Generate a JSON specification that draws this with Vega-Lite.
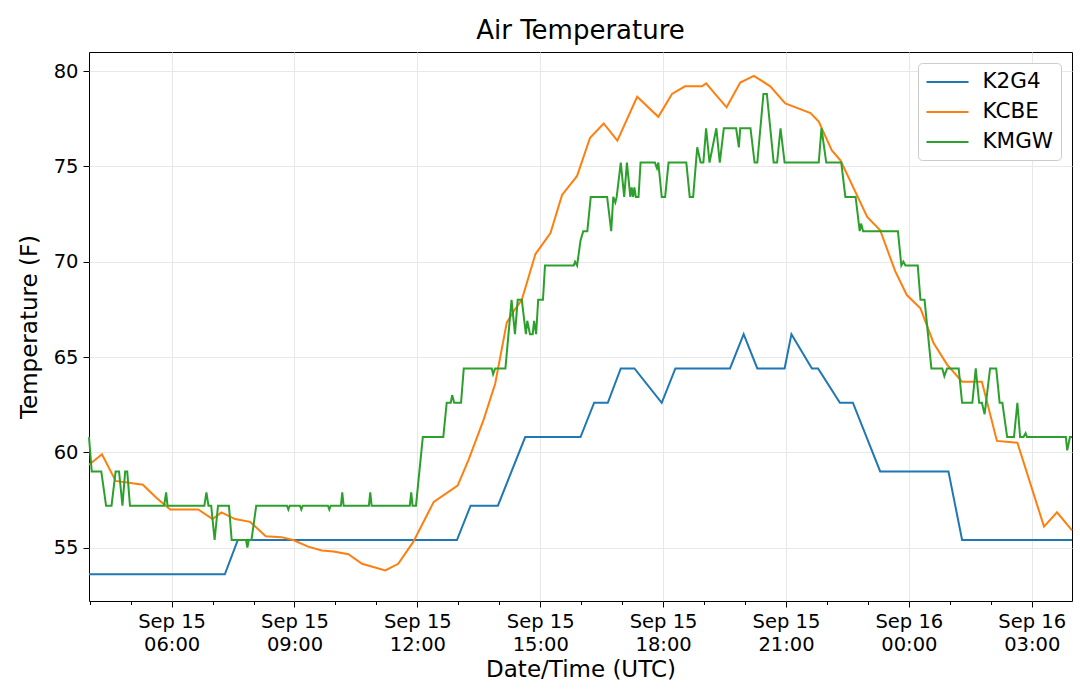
{
  "$schema": "https://vega.github.io/schema/vega-lite/v6.json",
  "width": 983,
  "height": 549,
  "autosize": "none",
  "padding": {"left": 89, "top": 52, "right": 8, "bottom": 92},
  "title": {"text": "Air Temperature", "fontSize": 26, "fontWeight": "normal", "color": "black", "offset": 8, "anchor": "middle"},
  "data": {
    "values": [
      {"station": "K2G4", "time": "2019-09-15T03:59:00", "temp": 53.6},
      {"station": "K2G4", "time": "2019-09-15T07:18:00", "temp": 53.6},
      {"station": "K2G4", "time": "2019-09-15T07:37:00", "temp": 55.4},
      {"station": "K2G4", "time": "2019-09-15T12:58:00", "temp": 55.4},
      {"station": "K2G4", "time": "2019-09-15T13:18:00", "temp": 57.2},
      {"station": "K2G4", "time": "2019-09-15T13:58:00", "temp": 57.2},
      {"station": "K2G4", "time": "2019-09-15T14:38:00", "temp": 60.8},
      {"station": "K2G4", "time": "2019-09-15T15:59:00", "temp": 60.8},
      {"station": "K2G4", "time": "2019-09-15T16:19:00", "temp": 62.6},
      {"station": "K2G4", "time": "2019-09-15T16:39:00", "temp": 62.6},
      {"station": "K2G4", "time": "2019-09-15T16:58:00", "temp": 64.4},
      {"station": "K2G4", "time": "2019-09-15T17:18:00", "temp": 64.4},
      {"station": "K2G4", "time": "2019-09-15T17:58:00", "temp": 62.6},
      {"station": "K2G4", "time": "2019-09-15T18:18:00", "temp": 64.4},
      {"station": "K2G4", "time": "2019-09-15T19:38:00", "temp": 64.4},
      {"station": "K2G4", "time": "2019-09-15T19:58:00", "temp": 66.2},
      {"station": "K2G4", "time": "2019-09-15T20:18:00", "temp": 64.4},
      {"station": "K2G4", "time": "2019-09-15T20:58:00", "temp": 64.4},
      {"station": "K2G4", "time": "2019-09-15T21:08:00", "temp": 66.2},
      {"station": "K2G4", "time": "2019-09-15T21:38:00", "temp": 64.4},
      {"station": "K2G4", "time": "2019-09-15T21:47:00", "temp": 64.4},
      {"station": "K2G4", "time": "2019-09-15T22:19:00", "temp": 62.6},
      {"station": "K2G4", "time": "2019-09-15T22:38:00", "temp": 62.6},
      {"station": "K2G4", "time": "2019-09-15T23:18:00", "temp": 59.0},
      {"station": "K2G4", "time": "2019-09-16T00:58:00", "temp": 59.0},
      {"station": "K2G4", "time": "2019-09-16T01:18:00", "temp": 55.4},
      {"station": "K2G4", "time": "2019-09-16T03:59:00", "temp": 55.4},

      {"station": "KCBE", "time": "2019-09-15T03:59:00", "temp": 59.35},
      {"station": "KCBE", "time": "2019-09-15T04:18:00", "temp": 59.9},
      {"station": "KCBE", "time": "2019-09-15T04:38:00", "temp": 58.5},
      {"station": "KCBE", "time": "2019-09-15T05:18:00", "temp": 58.3},
      {"station": "KCBE", "time": "2019-09-15T05:38:00", "temp": 57.6},
      {"station": "KCBE", "time": "2019-09-15T05:58:00", "temp": 57.0},
      {"station": "KCBE", "time": "2019-09-15T06:39:00", "temp": 57.0},
      {"station": "KCBE", "time": "2019-09-15T07:00:00", "temp": 56.5},
      {"station": "KCBE", "time": "2019-09-15T07:13:00", "temp": 56.85},
      {"station": "KCBE", "time": "2019-09-15T07:33:00", "temp": 56.5},
      {"station": "KCBE", "time": "2019-09-15T07:55:00", "temp": 56.35},
      {"station": "KCBE", "time": "2019-09-15T08:18:00", "temp": 55.6},
      {"station": "KCBE", "time": "2019-09-15T08:41:00", "temp": 55.55},
      {"station": "KCBE", "time": "2019-09-15T08:58:00", "temp": 55.4},
      {"station": "KCBE", "time": "2019-09-15T09:20:00", "temp": 55.05},
      {"station": "KCBE", "time": "2019-09-15T09:40:00", "temp": 54.85},
      {"station": "KCBE", "time": "2019-09-15T09:57:00", "temp": 54.8},
      {"station": "KCBE", "time": "2019-09-15T10:19:00", "temp": 54.65},
      {"station": "KCBE", "time": "2019-09-15T10:39:00", "temp": 54.15},
      {"station": "KCBE", "time": "2019-09-15T11:13:00", "temp": 53.8},
      {"station": "KCBE", "time": "2019-09-15T11:32:00", "temp": 54.15},
      {"station": "KCBE", "time": "2019-09-15T11:54:00", "temp": 55.3},
      {"station": "KCBE", "time": "2019-09-15T12:24:00", "temp": 57.4},
      {"station": "KCBE", "time": "2019-09-15T12:59:00", "temp": 58.25},
      {"station": "KCBE", "time": "2019-09-15T13:15:00", "temp": 59.6},
      {"station": "KCBE", "time": "2019-09-15T13:37:00", "temp": 61.7},
      {"station": "KCBE", "time": "2019-09-15T13:54:00", "temp": 63.6},
      {"station": "KCBE", "time": "2019-09-15T14:11:00", "temp": 66.8},
      {"station": "KCBE", "time": "2019-09-15T14:23:00", "temp": 67.5},
      {"station": "KCBE", "time": "2019-09-15T14:33:00", "temp": 68.0},
      {"station": "KCBE", "time": "2019-09-15T14:53:00", "temp": 70.4},
      {"station": "KCBE", "time": "2019-09-15T15:15:00", "temp": 71.5},
      {"station": "KCBE", "time": "2019-09-15T15:32:00", "temp": 73.5},
      {"station": "KCBE", "time": "2019-09-15T15:54:00", "temp": 74.5},
      {"station": "KCBE", "time": "2019-09-15T16:13:00", "temp": 76.5},
      {"station": "KCBE", "time": "2019-09-15T16:33:00", "temp": 77.25},
      {"station": "KCBE", "time": "2019-09-15T16:53:00", "temp": 76.35},
      {"station": "KCBE", "time": "2019-09-15T17:22:00", "temp": 78.65},
      {"station": "KCBE", "time": "2019-09-15T17:53:00", "temp": 77.6},
      {"station": "KCBE", "time": "2019-09-15T18:13:00", "temp": 78.8},
      {"station": "KCBE", "time": "2019-09-15T18:32:00", "temp": 79.2},
      {"station": "KCBE", "time": "2019-09-15T18:57:00", "temp": 79.2},
      {"station": "KCBE", "time": "2019-09-15T19:03:00", "temp": 79.35},
      {"station": "KCBE", "time": "2019-09-15T19:33:00", "temp": 78.1},
      {"station": "KCBE", "time": "2019-09-15T19:53:00", "temp": 79.4},
      {"station": "KCBE", "time": "2019-09-15T20:13:00", "temp": 79.75},
      {"station": "KCBE", "time": "2019-09-15T20:37:00", "temp": 79.2},
      {"station": "KCBE", "time": "2019-09-15T20:59:00", "temp": 78.3},
      {"station": "KCBE", "time": "2019-09-15T21:36:00", "temp": 77.8},
      {"station": "KCBE", "time": "2019-09-15T21:48:00", "temp": 77.35},
      {"station": "KCBE", "time": "2019-09-15T22:07:00", "temp": 75.85},
      {"station": "KCBE", "time": "2019-09-15T22:20:00", "temp": 75.3},
      {"station": "KCBE", "time": "2019-09-15T22:59:00", "temp": 72.35},
      {"station": "KCBE", "time": "2019-09-15T23:18:00", "temp": 71.65},
      {"station": "KCBE", "time": "2019-09-15T23:40:00", "temp": 69.5},
      {"station": "KCBE", "time": "2019-09-15T23:57:00", "temp": 68.25},
      {"station": "KCBE", "time": "2019-09-16T00:17:00", "temp": 67.55},
      {"station": "KCBE", "time": "2019-09-16T00:36:00", "temp": 65.75},
      {"station": "KCBE", "time": "2019-09-16T00:56:00", "temp": 64.6},
      {"station": "KCBE", "time": "2019-09-16T01:18:00", "temp": 63.7},
      {"station": "KCBE", "time": "2019-09-16T01:47:00", "temp": 63.7},
      {"station": "KCBE", "time": "2019-09-16T02:09:00", "temp": 60.6},
      {"station": "KCBE", "time": "2019-09-16T02:39:00", "temp": 60.5},
      {"station": "KCBE", "time": "2019-09-16T03:18:00", "temp": 56.1},
      {"station": "KCBE", "time": "2019-09-16T03:37:00", "temp": 56.85},
      {"station": "KCBE", "time": "2019-09-16T03:59:00", "temp": 55.9},

      {"station": "KMGW", "time": "2019-09-15T03:59:00", "temp": 60.8},
      {"station": "KMGW", "time": "2019-09-15T04:03:00", "temp": 59.0},
      {"station": "KMGW", "time": "2019-09-15T04:17:00", "temp": 59.0},
      {"station": "KMGW", "time": "2019-09-15T04:24:00", "temp": 57.2},
      {"station": "KMGW", "time": "2019-09-15T04:32:00", "temp": 57.2},
      {"station": "KMGW", "time": "2019-09-15T04:38:00", "temp": 59.0},
      {"station": "KMGW", "time": "2019-09-15T04:43:00", "temp": 59.0},
      {"station": "KMGW", "time": "2019-09-15T04:48:00", "temp": 57.2},
      {"station": "KMGW", "time": "2019-09-15T04:52:00", "temp": 59.0},
      {"station": "KMGW", "time": "2019-09-15T04:55:00", "temp": 59.0},
      {"station": "KMGW", "time": "2019-09-15T04:59:00", "temp": 57.2},
      {"station": "KMGW", "time": "2019-09-15T05:49:00", "temp": 57.2},
      {"station": "KMGW", "time": "2019-09-15T05:52:00", "temp": 57.9},
      {"station": "KMGW", "time": "2019-09-15T05:54:00", "temp": 57.2},
      {"station": "KMGW", "time": "2019-09-15T06:48:00", "temp": 57.2},
      {"station": "KMGW", "time": "2019-09-15T06:51:00", "temp": 57.9},
      {"station": "KMGW", "time": "2019-09-15T06:54:00", "temp": 57.2},
      {"station": "KMGW", "time": "2019-09-15T06:58:00", "temp": 57.2},
      {"station": "KMGW", "time": "2019-09-15T07:03:00", "temp": 55.4},
      {"station": "KMGW", "time": "2019-09-15T07:08:00", "temp": 57.2},
      {"station": "KMGW", "time": "2019-09-15T07:24:00", "temp": 57.2},
      {"station": "KMGW", "time": "2019-09-15T07:28:00", "temp": 55.4},
      {"station": "KMGW", "time": "2019-09-15T07:49:00", "temp": 55.4},
      {"station": "KMGW", "time": "2019-09-15T07:51:00", "temp": 55.0},
      {"station": "KMGW", "time": "2019-09-15T07:53:00", "temp": 55.4},
      {"station": "KMGW", "time": "2019-09-15T07:57:00", "temp": 55.4},
      {"station": "KMGW", "time": "2019-09-15T08:04:00", "temp": 57.2},
      {"station": "KMGW", "time": "2019-09-15T08:49:00", "temp": 57.2},
      {"station": "KMGW", "time": "2019-09-15T08:51:00", "temp": 57.0},
      {"station": "KMGW", "time": "2019-09-15T08:53:00", "temp": 57.2},
      {"station": "KMGW", "time": "2019-09-15T09:08:00", "temp": 57.2},
      {"station": "KMGW", "time": "2019-09-15T09:10:00", "temp": 57.0},
      {"station": "KMGW", "time": "2019-09-15T09:12:00", "temp": 57.2},
      {"station": "KMGW", "time": "2019-09-15T09:49:00", "temp": 57.2},
      {"station": "KMGW", "time": "2019-09-15T09:51:00", "temp": 57.0},
      {"station": "KMGW", "time": "2019-09-15T09:53:00", "temp": 57.2},
      {"station": "KMGW", "time": "2019-09-15T10:08:00", "temp": 57.2},
      {"station": "KMGW", "time": "2019-09-15T10:10:00", "temp": 57.9},
      {"station": "KMGW", "time": "2019-09-15T10:12:00", "temp": 57.2},
      {"station": "KMGW", "time": "2019-09-15T10:49:00", "temp": 57.2},
      {"station": "KMGW", "time": "2019-09-15T10:51:00", "temp": 57.9},
      {"station": "KMGW", "time": "2019-09-15T10:53:00", "temp": 57.2},
      {"station": "KMGW", "time": "2019-09-15T11:49:00", "temp": 57.2},
      {"station": "KMGW", "time": "2019-09-15T11:51:00", "temp": 57.9},
      {"station": "KMGW", "time": "2019-09-15T11:53:00", "temp": 57.2},
      {"station": "KMGW", "time": "2019-09-15T11:58:00", "temp": 57.2},
      {"station": "KMGW", "time": "2019-09-15T12:08:00", "temp": 60.8},
      {"station": "KMGW", "time": "2019-09-15T12:38:00", "temp": 60.8},
      {"station": "KMGW", "time": "2019-09-15T12:43:00", "temp": 62.6},
      {"station": "KMGW", "time": "2019-09-15T12:49:00", "temp": 62.6},
      {"station": "KMGW", "time": "2019-09-15T12:51:00", "temp": 63.0},
      {"station": "KMGW", "time": "2019-09-15T12:54:00", "temp": 62.6},
      {"station": "KMGW", "time": "2019-09-15T13:04:00", "temp": 62.6},
      {"station": "KMGW", "time": "2019-09-15T13:08:00", "temp": 64.4},
      {"station": "KMGW", "time": "2019-09-15T13:49:00", "temp": 64.4},
      {"station": "KMGW", "time": "2019-09-15T13:51:00", "temp": 64.1},
      {"station": "KMGW", "time": "2019-09-15T13:54:00", "temp": 64.4},
      {"station": "KMGW", "time": "2019-09-15T14:09:00", "temp": 64.4},
      {"station": "KMGW", "time": "2019-09-15T14:18:00", "temp": 68.0},
      {"station": "KMGW", "time": "2019-09-15T14:23:00", "temp": 66.2},
      {"station": "KMGW", "time": "2019-09-15T14:27:00", "temp": 68.0},
      {"station": "KMGW", "time": "2019-09-15T14:33:00", "temp": 68.0},
      {"station": "KMGW", "time": "2019-09-15T14:39:00", "temp": 66.2},
      {"station": "KMGW", "time": "2019-09-15T14:41:00", "temp": 66.9},
      {"station": "KMGW", "time": "2019-09-15T14:45:00", "temp": 66.2},
      {"station": "KMGW", "time": "2019-09-15T14:49:00", "temp": 66.2},
      {"station": "KMGW", "time": "2019-09-15T14:51:00", "temp": 66.9},
      {"station": "KMGW", "time": "2019-09-15T14:54:00", "temp": 66.2},
      {"station": "KMGW", "time": "2019-09-15T14:57:00", "temp": 68.0},
      {"station": "KMGW", "time": "2019-09-15T15:04:00", "temp": 68.0},
      {"station": "KMGW", "time": "2019-09-15T15:07:00", "temp": 69.8},
      {"station": "KMGW", "time": "2019-09-15T15:49:00", "temp": 69.8},
      {"station": "KMGW", "time": "2019-09-15T15:51:00", "temp": 70.0},
      {"station": "KMGW", "time": "2019-09-15T15:54:00", "temp": 69.8},
      {"station": "KMGW", "time": "2019-09-15T15:59:00", "temp": 71.1},
      {"station": "KMGW", "time": "2019-09-15T16:03:00", "temp": 71.6},
      {"station": "KMGW", "time": "2019-09-15T16:09:00", "temp": 71.6},
      {"station": "KMGW", "time": "2019-09-15T16:14:00", "temp": 73.4},
      {"station": "KMGW", "time": "2019-09-15T16:38:00", "temp": 73.4},
      {"station": "KMGW", "time": "2019-09-15T16:44:00", "temp": 71.6},
      {"station": "KMGW", "time": "2019-09-15T16:47:00", "temp": 73.4},
      {"station": "KMGW", "time": "2019-09-15T16:50:00", "temp": 73.1},
      {"station": "KMGW", "time": "2019-09-15T16:52:00", "temp": 73.4},
      {"station": "KMGW", "time": "2019-09-15T16:58:00", "temp": 75.2},
      {"station": "KMGW", "time": "2019-09-15T17:03:00", "temp": 73.4},
      {"station": "KMGW", "time": "2019-09-15T17:07:00", "temp": 75.2},
      {"station": "KMGW", "time": "2019-09-15T17:12:00", "temp": 73.4},
      {"station": "KMGW", "time": "2019-09-15T17:14:00", "temp": 73.9},
      {"station": "KMGW", "time": "2019-09-15T17:16:00", "temp": 73.4},
      {"station": "KMGW", "time": "2019-09-15T17:18:00", "temp": 73.9},
      {"station": "KMGW", "time": "2019-09-15T17:20:00", "temp": 73.4},
      {"station": "KMGW", "time": "2019-09-15T17:24:00", "temp": 73.4},
      {"station": "KMGW", "time": "2019-09-15T17:27:00", "temp": 75.2},
      {"station": "KMGW", "time": "2019-09-15T17:48:00", "temp": 75.2},
      {"station": "KMGW", "time": "2019-09-15T17:51:00", "temp": 74.9},
      {"station": "KMGW", "time": "2019-09-15T17:53:00", "temp": 75.2},
      {"station": "KMGW", "time": "2019-09-15T17:58:00", "temp": 73.4},
      {"station": "KMGW", "time": "2019-09-15T18:03:00", "temp": 73.4},
      {"station": "KMGW", "time": "2019-09-15T18:08:00", "temp": 75.2},
      {"station": "KMGW", "time": "2019-09-15T18:34:00", "temp": 75.2},
      {"station": "KMGW", "time": "2019-09-15T18:39:00", "temp": 73.4},
      {"station": "KMGW", "time": "2019-09-15T18:44:00", "temp": 73.4},
      {"station": "KMGW", "time": "2019-09-15T18:50:00", "temp": 76.0},
      {"station": "KMGW", "time": "2019-09-15T18:55:00", "temp": 75.2},
      {"station": "KMGW", "time": "2019-09-15T18:59:00", "temp": 75.2},
      {"station": "KMGW", "time": "2019-09-15T19:03:00", "temp": 77.0},
      {"station": "KMGW", "time": "2019-09-15T19:08:00", "temp": 75.2},
      {"station": "KMGW", "time": "2019-09-15T19:18:00", "temp": 77.0},
      {"station": "KMGW", "time": "2019-09-15T19:23:00", "temp": 75.2},
      {"station": "KMGW", "time": "2019-09-15T19:29:00", "temp": 77.0},
      {"station": "KMGW", "time": "2019-09-15T19:47:00", "temp": 77.0},
      {"station": "KMGW", "time": "2019-09-15T19:51:00", "temp": 76.0},
      {"station": "KMGW", "time": "2019-09-15T19:53:00", "temp": 77.0},
      {"station": "KMGW", "time": "2019-09-15T20:08:00", "temp": 77.0},
      {"station": "KMGW", "time": "2019-09-15T20:14:00", "temp": 75.2},
      {"station": "KMGW", "time": "2019-09-15T20:18:00", "temp": 75.2},
      {"station": "KMGW", "time": "2019-09-15T20:27:00", "temp": 78.8},
      {"station": "KMGW", "time": "2019-09-15T20:32:00", "temp": 78.8},
      {"station": "KMGW", "time": "2019-09-15T20:42:00", "temp": 75.2},
      {"station": "KMGW", "time": "2019-09-15T20:47:00", "temp": 75.2},
      {"station": "KMGW", "time": "2019-09-15T20:52:00", "temp": 77.0},
      {"station": "KMGW", "time": "2019-09-15T20:58:00", "temp": 75.2},
      {"station": "KMGW", "time": "2019-09-15T21:48:00", "temp": 75.2},
      {"station": "KMGW", "time": "2019-09-15T21:52:00", "temp": 77.0},
      {"station": "KMGW", "time": "2019-09-15T21:59:00", "temp": 75.2},
      {"station": "KMGW", "time": "2019-09-15T22:21:00", "temp": 75.2},
      {"station": "KMGW", "time": "2019-09-15T22:27:00", "temp": 73.4},
      {"station": "KMGW", "time": "2019-09-15T22:42:00", "temp": 73.4},
      {"station": "KMGW", "time": "2019-09-15T22:48:00", "temp": 71.6},
      {"station": "KMGW", "time": "2019-09-15T22:50:00", "temp": 72.0},
      {"station": "KMGW", "time": "2019-09-15T22:53:00", "temp": 71.6},
      {"station": "KMGW", "time": "2019-09-15T23:44:00", "temp": 71.6},
      {"station": "KMGW", "time": "2019-09-15T23:49:00", "temp": 69.8},
      {"station": "KMGW", "time": "2019-09-15T23:52:00", "temp": 70.0},
      {"station": "KMGW", "time": "2019-09-15T23:55:00", "temp": 69.8},
      {"station": "KMGW", "time": "2019-09-16T00:13:00", "temp": 69.8},
      {"station": "KMGW", "time": "2019-09-16T00:17:00", "temp": 68.0},
      {"station": "KMGW", "time": "2019-09-16T00:23:00", "temp": 68.0},
      {"station": "KMGW", "time": "2019-09-16T00:33:00", "temp": 64.4},
      {"station": "KMGW", "time": "2019-09-16T00:49:00", "temp": 64.4},
      {"station": "KMGW", "time": "2019-09-16T00:52:00", "temp": 64.0},
      {"station": "KMGW", "time": "2019-09-16T00:56:00", "temp": 64.4},
      {"station": "KMGW", "time": "2019-09-16T01:13:00", "temp": 64.4},
      {"station": "KMGW", "time": "2019-09-16T01:18:00", "temp": 62.6},
      {"station": "KMGW", "time": "2019-09-16T01:33:00", "temp": 62.6},
      {"station": "KMGW", "time": "2019-09-16T01:38:00", "temp": 64.4},
      {"station": "KMGW", "time": "2019-09-16T01:43:00", "temp": 62.6},
      {"station": "KMGW", "time": "2019-09-16T01:47:00", "temp": 62.6},
      {"station": "KMGW", "time": "2019-09-16T01:51:00", "temp": 62.0},
      {"station": "KMGW", "time": "2019-09-16T01:59:00", "temp": 64.4},
      {"station": "KMGW", "time": "2019-09-16T02:08:00", "temp": 64.4},
      {"station": "KMGW", "time": "2019-09-16T02:13:00", "temp": 62.6},
      {"station": "KMGW", "time": "2019-09-16T02:17:00", "temp": 62.6},
      {"station": "KMGW", "time": "2019-09-16T02:24:00", "temp": 60.8},
      {"station": "KMGW", "time": "2019-09-16T02:34:00", "temp": 60.8},
      {"station": "KMGW", "time": "2019-09-16T02:39:00", "temp": 62.6},
      {"station": "KMGW", "time": "2019-09-16T02:43:00", "temp": 60.8},
      {"station": "KMGW", "time": "2019-09-16T02:48:00", "temp": 60.8},
      {"station": "KMGW", "time": "2019-09-16T02:51:00", "temp": 61.0},
      {"station": "KMGW", "time": "2019-09-16T02:53:00", "temp": 60.8},
      {"station": "KMGW", "time": "2019-09-16T03:50:00", "temp": 60.8},
      {"station": "KMGW", "time": "2019-09-16T03:52:00", "temp": 60.1},
      {"station": "KMGW", "time": "2019-09-16T03:56:00", "temp": 60.8},
      {"station": "KMGW", "time": "2019-09-16T03:59:00", "temp": 60.8}
    ]
  },
  "layer": [
    {
      "mark": {"type": "line", "opacity": 0},
      "encoding": {
        "x": {
          "field": "time",
          "type": "temporal",
          "scale": {
            "domain": [
              {"year": 2019, "month": 9, "date": 15, "hours": 3, "minutes": 59},
              {"year": 2019, "month": 9, "date": 16, "hours": 3, "minutes": 59}
            ]
          },
          "axis": {
            "orient": "bottom",
            "title": null,
            "labels": false,
            "grid": false,
            "tickSize": 3.5,
            "values": [
              {"year": 2019, "month": 9, "date": 15, "hours": 4},
              {"year": 2019, "month": 9, "date": 15, "hours": 5},
              {"year": 2019, "month": 9, "date": 15, "hours": 7},
              {"year": 2019, "month": 9, "date": 15, "hours": 8},
              {"year": 2019, "month": 9, "date": 15, "hours": 10},
              {"year": 2019, "month": 9, "date": 15, "hours": 11},
              {"year": 2019, "month": 9, "date": 15, "hours": 13},
              {"year": 2019, "month": 9, "date": 15, "hours": 14},
              {"year": 2019, "month": 9, "date": 15, "hours": 16},
              {"year": 2019, "month": 9, "date": 15, "hours": 17},
              {"year": 2019, "month": 9, "date": 15, "hours": 19},
              {"year": 2019, "month": 9, "date": 15, "hours": 20},
              {"year": 2019, "month": 9, "date": 15, "hours": 22},
              {"year": 2019, "month": 9, "date": 15, "hours": 23},
              {"year": 2019, "month": 9, "date": 16, "hours": 1},
              {"year": 2019, "month": 9, "date": 16, "hours": 2}
            ]
          }
        },
        "y": {
          "field": "temp",
          "type": "quantitative",
          "scale": {"domain": [52.2, 81.0], "zero": false}
        }
      }
    },
    {
      "mark": {"type": "line", "strokeWidth": 2},
      "encoding": {
        "x": {
          "field": "time",
          "type": "temporal",
          "scale": {
            "domain": [
              {"year": 2019, "month": 9, "date": 15, "hours": 3, "minutes": 59},
              {"year": 2019, "month": 9, "date": 16, "hours": 3, "minutes": 59}
            ]
          },
          "axis": {
            "orient": "bottom",
            "title": "Date/Time (UTC)",
            "grid": true,
            "values": [
              {"year": 2019, "month": 9, "date": 15, "hours": 6},
              {"year": 2019, "month": 9, "date": 15, "hours": 9},
              {"year": 2019, "month": 9, "date": 15, "hours": 12},
              {"year": 2019, "month": 9, "date": 15, "hours": 15},
              {"year": 2019, "month": 9, "date": 15, "hours": 18},
              {"year": 2019, "month": 9, "date": 15, "hours": 21},
              {"year": 2019, "month": 9, "date": 16, "hours": 0},
              {"year": 2019, "month": 9, "date": 16, "hours": 3}
            ],
            "labelExpr": "[timeFormat(datum.value, '%b %d'), timeFormat(datum.value, '%H:%M')]",
            "labelOverlap": false,
            "labelLineHeight": 23,
            "labelPadding": 5,
            "titlePadding": 5,
            "tickSize": 6
          }
        },
        "y": {
          "field": "temp",
          "type": "quantitative",
          "scale": {"domain": [52.2, 81.0], "zero": false},
          "axis": {"title": "Temperature (F)", "grid": true, "values": [55, 60, 65, 70, 75, 80], "tickSize": 6, "labelPadding": 5, "titlePadding": 12}
        },
        "color": {
          "field": "station",
          "type": "nominal",
          "scale": {"domain": ["K2G4", "KCBE", "KMGW"], "range": ["#1f77b4", "#ff7f0e", "#2ca02c"]},
          "legend": {
            "title": null,
            "orient": "top-right",
            "offset": 11,
            "symbolType": "M-1,0H3",
            "symbolSize": 441,
            "symbolStrokeWidth": 2,
            "labelFontSize": 21.5,
            "labelOffset": 34,
            "rowPadding": 8,
            "padding": 7.5,
            "fillColor": "white",
            "strokeColor": "#cccccc",
            "cornerRadius": 4
          }
        }
      }
    }
  ],
  "resolve": {"axis": {"x": "independent"}},
  "config": {
    "font": "DejaVu Sans",
    "view": {"stroke": "black"},
    "axis": {"domain": false, "labelFontSize": 19.5, "labelColor": "black", "titleFontSize": 23, "titleFontWeight": "normal", "titleColor": "black", "tickColor": "black", "gridColor": "#e8e8e8"},
    "legend": {"labelColor": "black"}
  }
}
